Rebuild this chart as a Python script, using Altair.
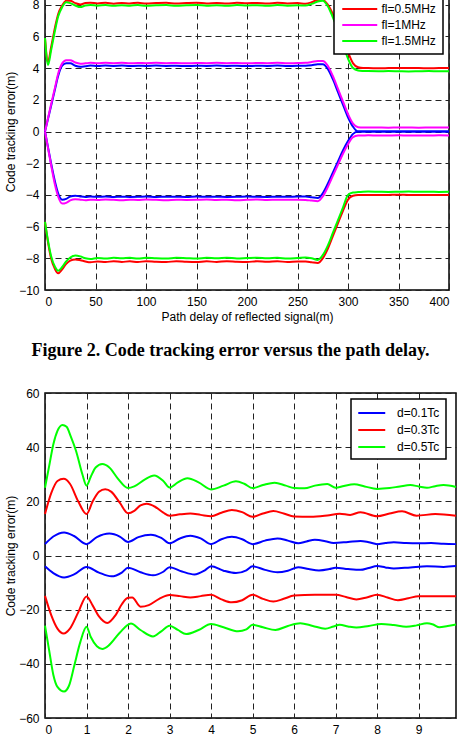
import altair as alt
import pandas as pd

FONT = "Liberation Sans"

# ---------------- top panel data ----------------
X_TOP = [0, 3, 6, 10, 13, 17, 21, 25, 30, 35, 40, 45, 52, 60, 68, 76, 84, 92, 100, 110,
         120, 130, 140, 150, 160, 170, 180, 190, 200, 210, 220, 230, 240, 250, 258,
         264, 270, 275, 280, 285, 290, 295, 300, 305, 310, 315, 320, 330, 340, 350,
         360, 370, 380, 390, 400]

TOP_LABELS = ["fl=0.1MHz", "fl=0.5MHz", "fl=1MHz", "fl=1.5MHz"]
TOP_COLORS = ["#0000ff", "#ff0000", "#ff00ff", "#00ff00"]

BLUE_UP = ([0, 0.8, 1.6, 2.7, 3.5, 4.15, 4.3, 4.3, 4.15, 4.08, 4.12, 4.16]
           + [4.13, 4.16, 4.14, 4.16, 4.13, 4.15, 4.14, 4.16, 4.14, 4.15, 4.13, 4.15, 4.14, 4.16, 4.14, 4.15, 4.13, 4.15, 4.14, 4.16, 4.13, 4.15]
           + [4.15, 4.18, 4.25, 4.25, 3.95, 3.3, 2.5, 1.7, 0.9, 0.3, 0.0]
           + [0, 0, 0, 0, 0, 0, 0, 0, 0, 0])
BLUE_LO = ([0, -1.0, -2.0, -3.2, -3.9, -4.3, -4.25, -4.1, -4.05, -4.1, -4.13, -4.1]
           + [-4.12, -4.1, -4.13, -4.11, -4.13, -4.12, -4.1, -4.13, -4.11, -4.12, -4.13, -4.1, -4.12, -4.11, -4.13, -4.12, -4.1, -4.12, -4.13, -4.11, -4.12, -4.1]
           + [-4.1, -4.15, -4.2, -3.9, -3.3, -2.6, -1.9, -1.2, -0.6, -0.15, 0.0]
           + [0, 0, 0, 0, 0, 0, 0, 0, 0, 0])
MAG_UP = ([0, 0.85, 1.7, 2.8, 3.65, 4.3, 4.5, 4.5, 4.35, 4.28, 4.3, 4.33]
          + [4.30, 4.33, 4.31, 4.33, 4.30, 4.32, 4.31, 4.33, 4.31, 4.32, 4.30, 4.32, 4.31, 4.33, 4.31, 4.32, 4.30, 4.32, 4.31, 4.33, 4.30, 4.32]
          + [4.33, 4.38, 4.45, 4.45, 4.15, 3.5, 2.7, 1.9, 1.1, 0.5, 0.27]
          + [0.25, 0.26, 0.25, 0.24, 0.26, 0.25, 0.24, 0.25, 0.26, 0.25])
MAG_LO = ([0, -1.05, -2.1, -3.4, -4.1, -4.55, -4.5, -4.35, -4.28, -4.3, -4.33, -4.3]
          + [-4.32, -4.29, -4.31, -4.33, -4.3, -4.32, -4.29, -4.31, -4.33, -4.3, -4.32, -4.31, -4.29, -4.32, -4.3, -4.33, -4.31, -4.29, -4.32, -4.3, -4.31, -4.3]
          + [-4.32, -4.36, -4.4, -4.1, -3.5, -2.8, -2.1, -1.4, -0.8, -0.35, -0.26]
          + [-0.25, -0.24, -0.26, -0.25, -0.24, -0.26, -0.25, -0.25, -0.24, -0.25])
RED_UP = ([5.9, 4.4, 5.3, 6.6, 7.4, 7.95, 8.25, 8.25, 8.1, 8.02, 8.1, 8.12]
          + [8.08, 8.12, 8.06, 8.11, 8.08, 8.12, 8.07, 8.1, 8.12, 8.07, 8.1, 8.12, 8.08, 8.11, 8.07, 8.12, 8.09, 8.11, 8.07, 8.12, 8.08, 8.1]
          + [8.06, 8.15, 8.3, 8.3, 8.0, 7.4, 6.6, 5.8, 5.0, 4.3, 4.05]
          + [4.0, 4.0, 3.99, 4.0, 4.01, 4.0, 4.0, 3.99, 4.0, 4.0])
RED_LO = ([-5.7, -7.0, -8.0, -8.7, -8.95, -8.7, -8.35, -8.15, -8.07, -8.12, -8.2, -8.25]
          + [-8.2, -8.24, -8.18, -8.23, -8.19, -8.24, -8.18, -8.22, -8.24, -8.18, -8.22, -8.24, -8.19, -8.23, -8.18, -8.22, -8.24, -8.18, -8.22, -8.19, -8.23, -8.2]
          + [-8.2, -8.25, -8.3, -8.0, -7.4, -6.6, -5.8, -5.0, -4.3, -4.05, -4.0]
          + [-4.0, -4.0, -4.01, -4.0, -3.99, -4.0, -4.0, -4.01, -4.0, -4.0])
GRN_UP = ([5.9, 4.2, 5.1, 6.4, 7.25, 7.85, 8.15, 8.1, 7.95, 7.85, 7.95, 7.98]
          + [7.94, 7.98, 7.93, 7.97, 7.94, 7.98, 7.93, 7.96, 7.98, 7.93, 7.96, 7.98, 7.94, 7.97, 7.93, 7.98, 7.95, 7.97, 7.93, 7.98, 7.94, 7.96]
          + [7.95, 8.05, 8.2, 8.25, 7.9, 7.2, 6.4, 5.5, 4.6, 4.0, 3.85]
          + [3.82, 3.81, 3.8, 3.81, 3.8, 3.79, 3.8, 3.81, 3.8, 3.8])
GRN_LO = ([-5.7, -6.9, -7.85, -8.55, -8.78, -8.55, -8.2, -7.95, -7.82, -7.88, -8.0, -8.05]
          + [-7.98, -8.02, -7.96, -8.0, -7.97, -8.02, -7.96, -8.0, -8.02, -7.96, -7.99, -8.02, -7.97, -8.0, -7.96, -8.01, -7.98, -7.96, -8.0, -7.97, -8.01, -7.98]
          + [-7.95, -8.0, -8.1, -7.8, -7.2, -6.4, -5.6, -4.8, -4.0, -3.85, -3.82]
          + [-3.8, -3.79, -3.8, -3.81, -3.8, -3.79, -3.8, -3.8, -3.81, -3.8])

TOP_SERIES = [
    (TOP_LABELS[0], BLUE_UP, BLUE_LO),
    (TOP_LABELS[1], RED_UP, RED_LO),
    (TOP_LABELS[2], MAG_UP, MAG_LO),
    (TOP_LABELS[3], GRN_UP, GRN_LO),
]

# ---------------- bottom panel data ----------------
BOT_LABELS = ["d=0.1Tc", "d=0.3Tc", "d=0.5Tc"]
BOT_COLORS = ["#0000ff", "#ff0000", "#00ff00"]

B_UP_X = [0, 0.2, 0.46, 0.7, 1.0, 1.25, 1.55, 1.8, 2.0, 2.25, 2.55, 2.8, 3.0, 3.25, 3.5, 3.75, 4.0, 4.25, 4.5, 4.75,
          5.0, 5.3, 5.6, 5.85, 6.1, 6.3, 6.5, 6.75, 6.95, 7.3, 7.6, 7.8, 8.0, 8.2, 8.4, 8.7, 9.0, 9.3, 9.6, 9.9]
B_UP_Y = [4.2, 7.0, 8.5, 7.2, 4.2, 6.8, 8.1, 7.0, 5.0, 6.8, 7.7, 6.5, 4.5, 6.3, 7.3, 6.3, 4.2, 6.0, 6.9, 6.0,
          4.2, 5.5, 6.3, 5.5, 4.5, 5.2, 5.8, 5.3, 4.6, 5.0, 5.4, 4.9, 4.2, 4.6, 4.9, 4.6, 4.5, 4.6, 4.3, 4.2]
B_LO_X = [0, 0.2, 0.46, 0.7, 1.0, 1.3, 1.6, 1.85, 2.0, 2.3, 2.6, 2.85, 3.0, 3.3, 3.6, 3.85, 4.0, 4.3, 4.6, 4.85,
          5.0, 5.3, 5.6, 5.85, 6.1, 6.35, 6.6, 6.85, 7.0, 7.3, 7.6, 7.8, 8.0, 8.2, 8.4, 8.8, 9.2, 9.6, 9.9]
B_LO_Y = [-4.0, -6.5, -8.1, -7.0, -4.2, -6.3, -7.7, -6.3, -4.5, -6.2, -7.3, -6.0, -4.3, -5.9, -7.0, -5.5, -4.0, -5.6, -6.5, -5.5,
          -4.0, -5.3, -6.2, -5.6, -4.3, -5.0, -5.5, -5.0, -4.5, -5.0, -5.3, -4.6, -3.9, -4.4, -4.8, -4.4, -4.0, -4.2, -3.9]

R_UP_X = [0, 0.15, 0.3, 0.45, 0.6, 0.8, 1.0, 1.15, 1.3, 1.45, 1.6, 1.8, 2.0, 2.15, 2.3, 2.45, 2.65, 2.85, 3.0, 3.25,
          3.5, 3.75, 4.0, 4.25, 4.5, 4.75, 5.0, 5.25, 5.5, 5.75, 6.0, 6.4, 6.8, 7.1, 7.35, 7.6, 8.0, 8.3, 8.6, 8.95, 9.4, 9.9]
R_UP_Y = [15.3, 23, 27.5, 28.3, 26.5, 20, 15.3, 20, 23.5, 24.5, 23.5, 19.5, 15.6, 16.5, 18.5, 19.1, 18, 15.8, 14.7, 15.2,
          15.5, 15.0, 14.5, 15.8, 16.8, 16.0, 14.3, 15.5, 16.4, 15.5, 14.4, 14.3, 14.8, 15.4, 15.0, 16.0, 14.5, 15.5, 16.3, 14.7, 15.3, 14.7]
R_LO_X = [0, 0.15, 0.3, 0.45, 0.6, 0.8, 1.0, 1.15, 1.3, 1.5, 1.7, 1.85, 2.0, 2.1, 2.3, 2.5, 2.75, 3.0, 3.25, 3.5,
          3.75, 4.0, 4.25, 4.5, 4.75, 5.0, 5.25, 5.5, 5.75, 6.0, 6.5, 7.0, 7.25, 7.5, 7.75, 8.0, 8.25, 8.5, 8.75, 9.0, 9.5, 9.9]
R_LO_Y = [-14.9, -22, -27, -28.8, -27, -21, -15.1, -18.5, -22.5, -24.9, -22, -18, -15.6, -15.5, -18.9, -18.3, -16, -14.6, -15.0, -15.5,
          -15.0, -14.5, -16.2, -17.3, -16.5, -14.5, -16.0, -17.0, -16.0, -14.8, -14.5, -14.5, -15.3, -16.2, -15.5, -14.5, -15.5, -16.5, -15.8, -15.0, -15.0, -15.0]

G_UP_X = [0, 0.1, 0.2, 0.3, 0.42, 0.52, 0.62, 0.75, 0.9, 1.0, 1.1, 1.22, 1.38, 1.55, 1.75, 2.0, 2.15, 2.4, 2.63, 2.85,
          3.0, 3.2, 3.43, 3.7, 4.0, 4.3, 4.6, 4.8, 5.0, 5.25, 5.53, 5.8, 6.0, 6.25, 6.5, 6.8, 7.0, 7.2, 7.45, 7.7,
          8.0, 8.3, 8.55, 8.8, 9.0, 9.2, 9.4, 9.6, 9.9]
G_UP_Y = [25, 33, 41, 46, 48.2, 47.5, 44, 38.5, 30, 25.8, 29, 32.5, 33.8, 32.5, 28.5, 24.9, 25.5, 28, 29.5, 27.5,
          25.1, 27, 28.5, 27, 24.4, 25.8, 27.4, 26.5, 24.9, 26, 26.9, 25.8, 24.9, 24.8, 25.8, 26.4, 25.0, 25.7, 26.3, 25.5,
          24.6, 24.9, 25.5, 26.0, 25.5, 25.0, 25.6, 26.0, 25.3]
G_LO_X = [0, 0.1, 0.2, 0.3, 0.46, 0.58, 0.7, 0.85, 1.0, 1.1, 1.25, 1.38, 1.55, 1.8, 2.07, 2.3, 2.6, 2.8, 3.0, 3.2,
          3.4, 3.7, 4.0, 4.3, 4.65, 4.85, 5.0, 5.25, 5.55, 5.85, 6.15, 6.45, 6.75, 6.95, 7.1, 7.3, 7.5, 7.8, 8.1, 8.4,
          8.7, 8.95, 9.2, 9.35, 9.5, 9.7, 9.9]
G_LO_Y = [-25.9, -35, -44, -48.5, -50.2, -48, -41, -32, -26.3, -30, -33.5, -34.5, -33, -28.5, -25.1, -27.5, -29.9, -28, -25.9, -27.5,
          -29.0, -27.5, -25.3, -26.5, -28.0, -27.3, -25.6, -26.5, -27.5, -26, -25.0, -26, -27.0, -26.2, -25.6, -26.2, -26.6, -26, -25.3, -25.7,
          -26.3, -25.8, -25.0, -25.5, -26.5, -26.0, -25.5]

BOT_SERIES = [
    (BOT_LABELS[0], B_UP_X, B_UP_Y, B_LO_X, B_LO_Y),
    (BOT_LABELS[1], R_UP_X, R_UP_Y, R_LO_X, R_LO_Y),
    (BOT_LABELS[2], G_UP_X, G_UP_Y, G_LO_X, G_LO_Y),
]

GRID_DASH = [6, 4]
# legend key: a short horizontal stroke, drawn from the left edge of the symbol slot
LINE_KEY = "M-1,0H3"


def top_layer(label, up, lo):
    rows = [{"x": x, "y": y, "s": label, "b": "up", "i": i} for i, (x, y) in enumerate(zip(X_TOP, up))]
    rows += [{"x": x, "y": y, "s": label, "b": "lo", "i": i} for i, (x, y) in enumerate(zip(X_TOP, lo))]
    return rows


top_color = alt.Color(
    "s:N",
    scale=alt.Scale(domain=TOP_LABELS, range=TOP_COLORS),
    legend=alt.Legend(
        title=None, orient="none", legendX=289, legendY=3,
        symbolType=LINE_KEY, symbolSize=306, symbolStrokeWidth=2,
        labelOffset=20.5, padding=7, rowPadding=-1.5,
        strokeColor="black", fillColor="white",
        labelFont=FONT, labelFontSize=12, labelColor="black",
    ),
)

top_x = alt.X("x:Q", scale=alt.Scale(domain=[0, 400], nice=False, zero=False),
              axis=alt.Axis(values=list(range(0, 401, 50)), title="Path delay of reflected signal(m)"))
top_y = alt.Y("y:Q", scale=alt.Scale(domain=[-10, 10], nice=False, zero=False),
              axis=alt.Axis(values=list(range(-10, 11, 2)), title="Code tracking error(m)",
                            titleX=-35, titleY=158.5, titleAngle=270, titleBaseline="middle"))

top_layers = []
for label, up, lo in TOP_SERIES:
    df = pd.DataFrame(top_layer(label, up, lo))
    top_layers.append(
        alt.Chart(df).mark_line(strokeWidth=2, interpolate="monotone").encode(
            x=top_x, y=top_y, color=top_color, detail="b:N", order="i:Q"
        )
    )
top = alt.layer(*top_layers).properties(width=404, height=317)

bot_color = alt.Color(
    "s:N",
    scale=alt.Scale(domain=BOT_LABELS, range=BOT_COLORS),
    legend=alt.Legend(
        title=None, orient="none", legendX=306, legendY=6,
        symbolType=LINE_KEY, symbolSize=182, symbolStrokeWidth=2,
        labelOffset=24, padding=6, rowPadding=3,
        strokeColor="black", fillColor="white",
        labelFont=FONT, labelFontSize=12, labelColor="black",
    ),
)
bot_x = alt.X("x:Q", scale=alt.Scale(domain=[0, 9.9], nice=False, zero=False),
              axis=alt.Axis(values=list(range(0, 10)), title="Frequency offset of CW interference(MHz)"))
bot_y = alt.Y("y:Q", scale=alt.Scale(domain=[-60, 60], nice=False, zero=False),
              axis=alt.Axis(values=list(range(-60, 61, 20)), title="Code tracking error(m)",
                            titleX=-35, titleY=162.5, titleAngle=270, titleBaseline="middle"))

bot_layers = []
for label, ux, uy, lx, ly in BOT_SERIES:
    rows = [{"x": x, "y": y, "s": label, "b": "up", "i": i} for i, (x, y) in enumerate(zip(ux, uy))]
    rows += [{"x": x, "y": y, "s": label, "b": "lo", "i": i} for i, (x, y) in enumerate(zip(lx, ly))]
    df = pd.DataFrame(rows)
    bot_layers.append(
        alt.Chart(df).mark_line(strokeWidth=2, interpolate="monotone").encode(
            x=bot_x, y=bot_y, color=bot_color, detail="b:N", order="i:Q"
        )
    )
bottom = alt.layer(*bot_layers).properties(
    width=411, height=325,
    title=alt.TitleParams(
        "Figure 2. Code tracking error versus the path delay.",
        font="Liberation Serif", fontSize=18, fontWeight="bold", color="black",
        anchor="middle", baseline="alphabetic", offset=12.6, dx=-20,
    ),
)

chart = alt.vconcat(top, bottom, spacing=103, bounds="flush").resolve_scale(color="independent").properties(
    padding={"left": 3, "top": -34, "right": 0, "bottom": -13.5}
).configure_view(
    stroke="black", strokeWidth=1.5
).configure_axis(
    grid=True, gridColor="#222222", gridDash=GRID_DASH, gridWidth=1,
    domain=False, ticks=False, labelPadding=6,
    labelFont=FONT, labelFontSize=12, labelColor="black",
    titleFont=FONT, titleFontSize=12, titleFontWeight="normal", titleColor="black", titlePadding=4,
).configure_legend(
    cornerRadius=0, strokeWidth=1.5
)

chart.save("out.html", embed_options={"renderer": "svg", "actions": False})
